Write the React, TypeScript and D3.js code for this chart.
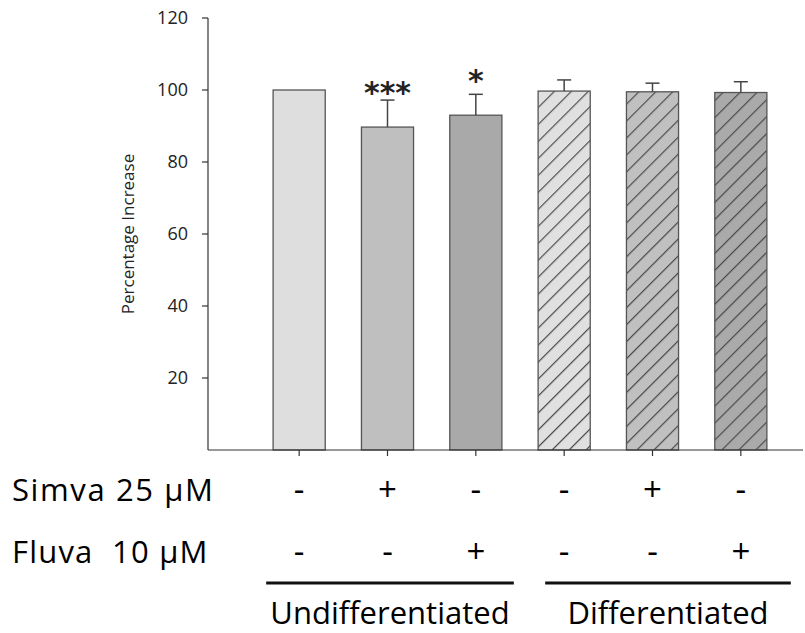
import React from "react";
import * as d3 from "d3";

const categories = ["U-ctrl", "U-simva", "U-fluva", "D-ctrl", "D-simva", "D-fluva"];
const values = [100, 89.7, 93, 99.7, 99.5, 99.3];
const errors = [0, 7.5, 5.8, 3.1, 2.4, 3.0];
const significance = ["", "***", "*", "", "", ""];
const fills = ["#dedede", "#bfbfbf", "#a9a9a9", "#e0e0e0", "#c0c0c0", "#aaaaaa"];
const hatched = [false, false, false, true, true, true];
const simvaSigns = ["-", "+", "-", "-", "+", "-"];
const fluvaSigns = ["-", "-", "+", "-", "-", "+"];
const yTicks = [20, 40, 60, 80, 100, 120];
const groups = [
  { label: "Undifferentiated", from: 0, to: 2 },
  { label: "Differentiated", from: 3, to: 5 },
];

const W = 805;
const H = 633;
const FONT = "'Open Sans', sans-serif";

export default function App() {
  const y = d3.scaleLinear().domain([0, 120]).range([450, 18]);
  const x = d3
    .scaleBand<string>()
    .domain(categories)
    .range([255, 785])
    .paddingInner(0.41)
    .paddingOuter(0.205);
  const bw = x.bandwidth();
  const axisX = 208;
  const axisY = y(0);
  const cx = (i: number) => (x(categories[i]) as number) + bw / 2;
  const groupExtents = [
    [cx(0) - 33, cx(2) + 38],
    [cx(3) - 19, cx(5) + 50],
  ];
  const H_SP = 12;

  return (
    <svg
      width={W}
      height={H}
      style={{ position: "absolute", left: 0, top: 0, background: "#fff" }}
      fontFamily={FONT}
    >
      <defs>
        {fills.map((f, i) => (
          <pattern
            key={i}
            id={`hatch${i}`}
            patternUnits="userSpaceOnUse"
            width={H_SP}
            height={H_SP}
            patternTransform="rotate(45)"
          >
            <rect width={H_SP} height={H_SP} fill={f} />
            <line x1={0.6} y1={0} x2={0.6} y2={H_SP} stroke="#4a4a4a" strokeWidth={1.2} />
          </pattern>
        ))}
      </defs>

      {/* bars */}
      {categories.map((c, i) => {
        const x0 = x(c) as number;
        const top = y(values[i]);
        const capY = y(values[i] + errors[i]);
        return (
          <g key={c}>
            <rect
              x={x0}
              y={top}
              width={bw}
              height={axisY - top}
              fill={hatched[i] ? `url(#hatch${i})` : fills[i]}
              stroke="#555"
              strokeWidth={1.3}
            />
            {errors[i] > 0 && (
              <g stroke="#444" strokeWidth={1.5}>
                <line x1={cx(i)} x2={cx(i)} y1={top} y2={capY} />
                <line x1={cx(i) - 7} x2={cx(i) + 7} y1={capY} y2={capY} />
              </g>
            )}
            {significance[i] && (
              <text
                x={cx(i)}
                y={capY + (significance[i].length > 1 ? 3 : -3)}
                textAnchor="middle"
                fontSize={30}
                fontWeight="bold"
                fill="#222"
                fontFamily="'DejaVu Sans', sans-serif"
              >
                {significance[i]}
              </text>
            )}
          </g>
        );
      })}

      {/* y axis */}
      <line x1={axisX} x2={axisX} y1={y(120)} y2={axisY} stroke="#333" strokeWidth={1.2} />
      {yTicks.map((t) => (
        <g key={t}>
          <line x1={axisX - 6} x2={axisX} y1={y(t)} y2={y(t)} stroke="#333" strokeWidth={1.2} />
          <text x={axisX - 20} y={y(t)} dy="0.36em" textAnchor="end" fontSize={18} fill="#222">
            {t}
          </text>
        </g>
      ))}
      <text
        transform={`translate(134, ${(y(0) + y(120)) / 2}) rotate(-90)`}
        textAnchor="middle"
        fontSize={17}
        fill="#222"
      >
        Percentage Increase
      </text>

      {/* x axis */}
      <line x1={axisX} x2={W - 2} y1={axisY} y2={axisY} stroke="#333" strokeWidth={1.2} />
      {categories.map((c, i) => (
        <line key={c} x1={cx(i)} x2={cx(i)} y1={axisY} y2={axisY + 6} stroke="#333" strokeWidth={1.2} />
      ))}

      {/* treatment rows */}
      <text x={12} y={501} fontSize={31} fill="#000" letterSpacing={1.6}>
        Simva 25 µM
      </text>
      <text x={12} y={563} fontSize={31} fill="#000" letterSpacing={1.2} style={{ whiteSpace: "pre" }}>
        Fluva  10 µM
      </text>
      {simvaSigns.map((s, i) => (
        <text key={"s" + i} x={cx(i)} y={501} textAnchor="middle" fontSize={33} fill="#000">
          {s}
        </text>
      ))}
      {fluvaSigns.map((s, i) => (
        <text key={"f" + i} x={cx(i)} y={563} textAnchor="middle" fontSize={33} fill="#000">
          {s}
        </text>
      ))}

      {/* group lines */}
      {groups.map((g, k) => {
        const [xa, xb] = groupExtents[k];
        return (
          <g key={g.label}>
            <line x1={xa} x2={xb} y1={583} y2={583} stroke="#111" strokeWidth={3} />
            <text x={(xa + xb) / 2} y={624} textAnchor="middle" fontSize={31} fill="#000">
              {g.label}
            </text>
          </g>
        );
      })}
    </svg>
  );
}
